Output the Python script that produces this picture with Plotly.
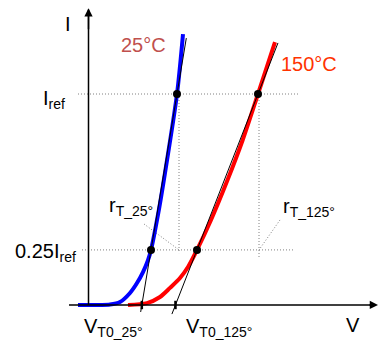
import plotly.graph_objects as go

# ---- data (V in arbitrary units, I in units of Iref) ----
blue_V = [-0.10, 0.12, 0.22, 0.32, 0.42, 0.49, 0.55, 0.60, 0.63, 0.705, 0.77, 0.89, 0.95]
blue_I = [0.0, 0.0, 0.002, 0.014, 0.057, 0.104, 0.156, 0.213, 0.261, 0.441, 0.626, 1.0, 1.284]
red_V = [0.40, 0.59, 0.72, 0.82, 0.92, 1.00, 1.09, 1.23, 1.395, 1.547, 1.70, 1.87]
red_I = [0.0, 0.009, 0.038, 0.081, 0.128, 0.180, 0.261, 0.403, 0.592, 0.782, 1.0, 1.246]

I_ref = 1.0
I_low = 0.261
blue_pts_V = [0.63, 0.89]
red_pts_V = [1.09, 1.70]
pts_I = [I_low, I_ref]

blue_tan_I = [-0.033, 1.265]
red_tan_I = [-0.043, 1.242]

FONT = "Liberation Sans, Arial, sans-serif"


def tangent(pv, I_range):
    v1, v2 = pv
    s = (v2 - v1) / (pts_I[1] - pts_I[0])
    return [v1 + (i - pts_I[0]) * s for i in I_range], list(I_range)


def v0(pv):
    v1, v2 = pv
    s = (v2 - v1) / (pts_I[1] - pts_I[0])
    return v1 - pts_I[0] * s


fig = go.Figure()

grey = dict(color="#808080", width=1, dash="1px,2px")

# dotted guide lines
fig.add_trace(go.Scatter(x=[-0.10, 2.11], y=[I_ref, I_ref], mode="lines", line=grey))
fig.add_trace(go.Scatter(x=[-0.06, 2.07], y=[I_low, I_low], mode="lines", line=grey))
fig.add_trace(go.Scatter(x=[0.91, 0.91], y=[I_ref, 0.246], mode="lines", line=grey))
fig.add_trace(go.Scatter(x=[1.71, 1.71], y=[I_ref, 0.223], mode="lines", line=grey))
fig.add_trace(go.Scatter(x=[0.56, 0.91], y=[0.384, I_low], mode="lines", line=grey))
fig.add_trace(go.Scatter(x=[1.92, 1.71], y=[0.403, I_low], mode="lines", line=grey))

# curves
fig.add_trace(go.Scatter(x=blue_V, y=blue_I, mode="lines",
                         line=dict(color="#0000FF", width=4, shape="spline", smoothing=0.8)))
fig.add_trace(go.Scatter(x=red_V, y=red_I, mode="lines",
                         line=dict(color="#FF0000", width=4, shape="spline", smoothing=0.8)))

# tangent lines
bx, by = tangent(blue_pts_V, blue_tan_I)
rx, ry = tangent(red_pts_V, red_tan_I)
fig.add_trace(go.Scatter(x=bx, y=by, mode="lines", line=dict(color="black", width=1)))
fig.add_trace(go.Scatter(x=rx, y=ry, mode="lines", line=dict(color="black", width=1)))

# points
fig.add_trace(go.Scatter(x=blue_pts_V + red_pts_V, y=pts_I + pts_I, mode="markers",
                         marker=dict(color="black", size=8)))

# axes
fig.add_trace(go.Scatter(x=[-0.19, 2.83], y=[0, 0], mode="lines", line=dict(color="black", width=1.5)))
fig.add_trace(go.Scatter(x=[0.005, 0.005], y=[0, 1.40], mode="lines", line=dict(color="black", width=1.5)))
fig.add_annotation(x=2.90, y=0, ax=2.80, ay=0, xref="x", yref="y", axref="x", ayref="y",
                   text="", showarrow=True, arrowhead=2, arrowsize=1.1, arrowwidth=1.5, arrowcolor="black")
fig.add_annotation(x=0.005, y=1.406, ax=0.005, ay=1.30, xref="x", yref="y", axref="x", ayref="y",
                   text="", showarrow=True, arrowhead=2, arrowsize=1.1, arrowwidth=1.5, arrowcolor="black")

# V0 ticks
fig.add_trace(go.Scatter(x=[v0(blue_pts_V), v0(red_pts_V)], y=[0, 0], mode="markers",
                         marker=dict(symbol="line-ns", size=6, line=dict(color="black", width=2.5))))

labels = [
    ("I", -0.20, 1.332, "black"),
    ("25°C", 0.55, 1.23, "#C0504D"),
    ("150°C", 2.205, 1.14, "#FF3300"),
    ("I<sub>ref</sub>", -0.34, 0.972, "black"),
    ("0.25I<sub>ref</sub>", -0.425, 0.251, "black"),
    ("r<sub>T_25°</sub>", 0.43, 0.469, "black"),
    ("r<sub>T_125°</sub>", 2.205, 0.462, "black"),
    ("V<sub>T0_25°</sub>", 0.25, -0.107, "black"),
    ("V<sub>T0_125°</sub>", 1.305, -0.107, "black"),
    ("V", 2.65, -0.097, "black"),
]
for t, x, y, c in labels:
    fig.add_annotation(x=x, y=y, xref="x", yref="y", text=t, showarrow=False,
                       xanchor="center", yanchor="middle",
                       font=dict(family=FONT, size=20, color=c))

fig.update_layout(
    width=387, height=350, autosize=False,
    margin=dict(l=0, r=0, t=0, b=0),
    paper_bgcolor="white", plot_bgcolor="white",
    showlegend=False,
    xaxis=dict(range=[-0.88, 2.99], visible=False, fixedrange=True),
    yaxis=dict(range=[-0.2133, 1.4455], visible=False, fixedrange=True),
)
fig.write_html("out.html", config={"displayModeBar": False})
